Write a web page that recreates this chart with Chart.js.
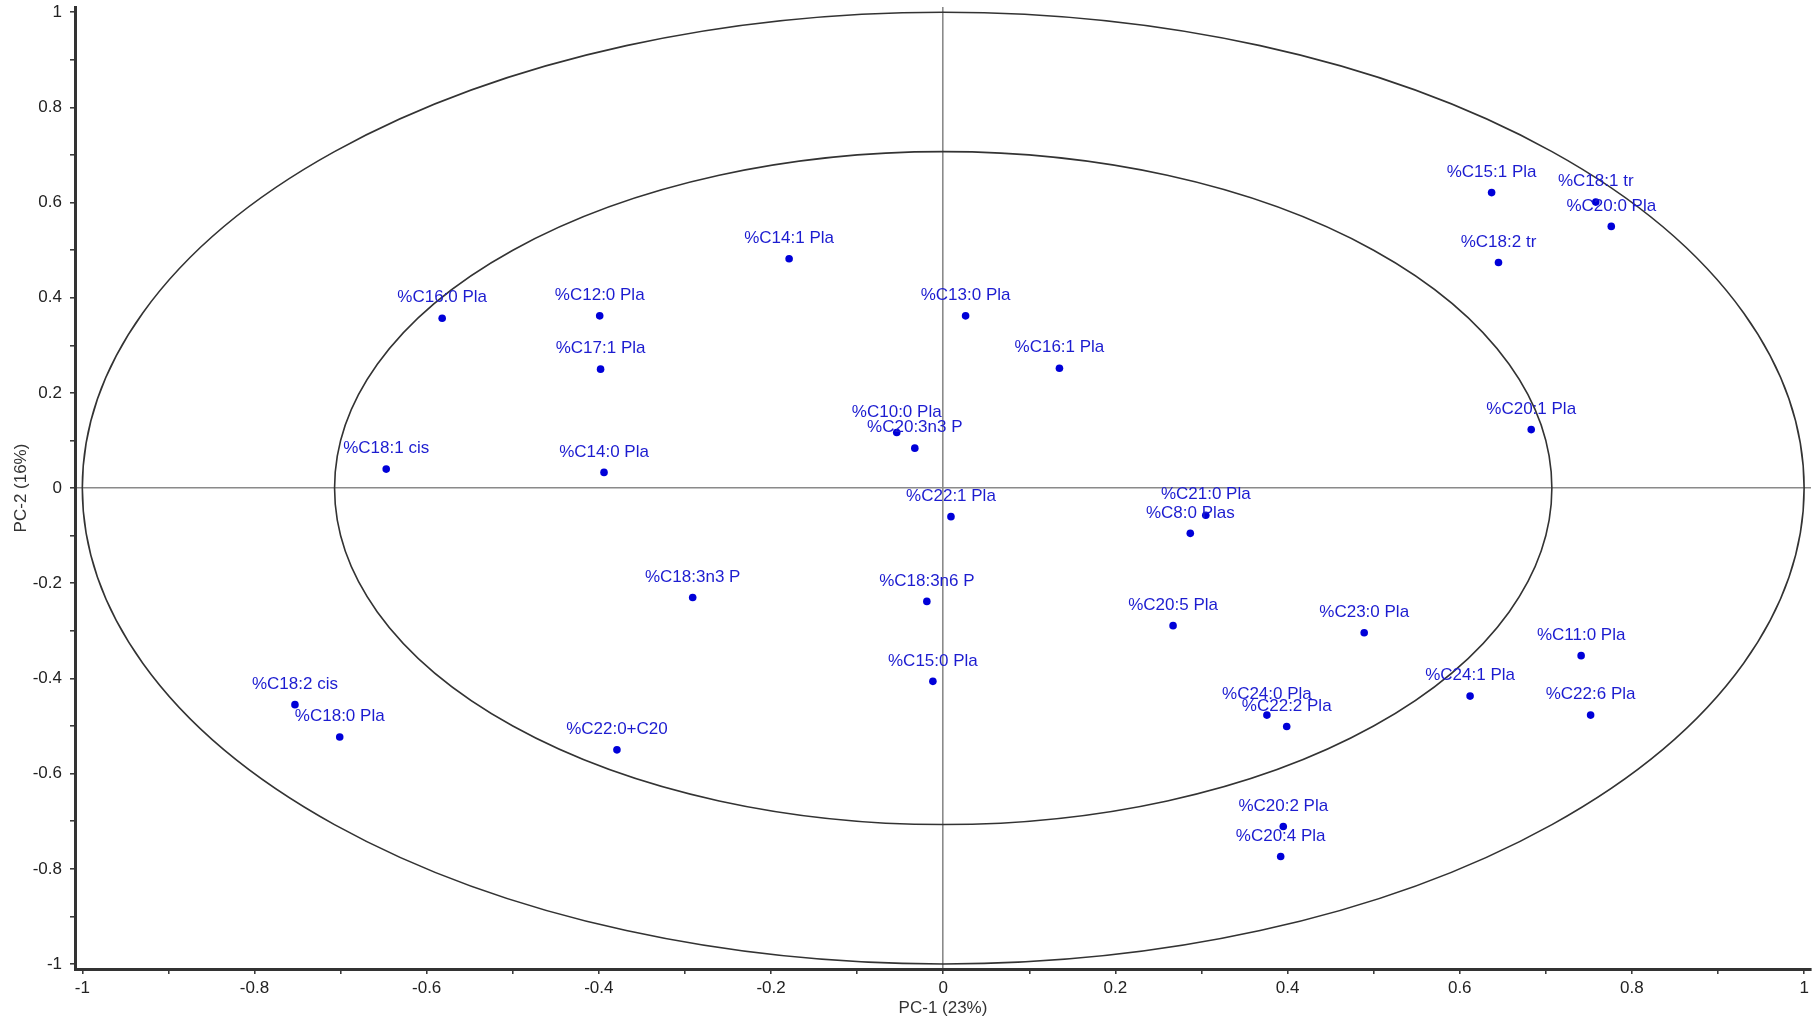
<!DOCTYPE html>
<html>
<head>
<meta charset="utf-8">
<title>PCA loadings</title>
<script src="https://cdn.jsdelivr.net/npm/chart.js@4.4.1/dist/chart.umd.min.js"></script>
<style>
  html, body { margin: 0; padding: 0; background: #fff; }
</style>
</head>
<body>
<canvas id="pcaChart" width="1818" height="1024"></canvas>
<script>
// loadings (PC-1, PC-2)
var names = ['%C16:0 Pla', '%C12:0 Pla', '%C17:1 Pla', '%C14:1 Pla', '%C13:0 Pla', '%C16:1 Pla',
  '%C10:0 Pla', '%C20:3n3 P', '%C18:1 cis', '%C14:0 Pla', '%C22:1 Pla', '%C21:0 Pla', '%C8:0 Plas',
  '%C18:3n3 P', '%C18:3n6 P', '%C15:0 Pla', '%C20:5 Pla', '%C23:0 Pla', '%C11:0 Pla', '%C24:1 Pla',
  '%C22:6 Pla', '%C24:0 Pla', '%C22:2 Pla', '%C20:2 Pla', '%C20:4 Pla', '%C18:2 cis', '%C18:0 Pla',
  '%C22:0+C20', '%C15:1 Pla', '%C18:1 tr', '%C20:0 Pla', '%C18:2 tr', '%C20:1 Pla'];
var pc1 = [-0.582, -0.399, -0.398, -0.179, 0.026, 0.135,
  -0.054, -0.033, -0.647, -0.394, 0.009, 0.305, 0.287,
  -0.291, -0.019, -0.012, 0.267, 0.489, 0.741, 0.612,
  0.752, 0.376, 0.399, 0.395, 0.392, -0.753, -0.701,
  -0.379, 0.637, 0.758, 0.776, 0.645, 0.683];
var pc2 = [0.357, 0.362, 0.250, 0.482, 0.362, 0.252,
  0.117, 0.084, 0.040, 0.033, -0.060, -0.057, -0.095,
  -0.230, -0.238, -0.406, -0.289, -0.304, -0.352, -0.437,
  -0.477, -0.477, -0.501, -0.711, -0.774, -0.455, -0.523,
  -0.550, 0.621, 0.601, 0.550, 0.474, 0.123];

var axisTicks = [-1, -0.9, -0.8, -0.7, -0.6, -0.5, -0.4, -0.3, -0.2, -0.1, 0,
  0.1, 0.2, 0.3, 0.4, 0.5, 0.6, 0.7, 0.8, 0.9, 1];
var circleRadii = [1, 0.707];   // 100% and 50% explained variance

var points = names.map(function (n, i) {
  return { x: pc1[i], y: pc2[i] };
});

var fontFam = '"Liberation Sans", Arial, sans-serif';

function majorOnly(v) {
  return Math.round(v * 10) % 2 === 0 ? String(v) : '';
}

function setTicks(scale) {
  scale.ticks = axisTicks.map(function (v) { return { value: v }; });
}

var ellipses = {
  id: 'ellipses',
  beforeDatasetsDraw: function (chart) {
    var ctx = chart.ctx, xs = chart.scales.x, ys = chart.scales.y;
    var cx = xs.getPixelForValue(0), cy = ys.getPixelForValue(0);
    ctx.save();
    ctx.strokeStyle = '#333';
    ctx.lineWidth = 1.6;
    circleRadii.forEach(function (r) {
      ctx.beginPath();
      ctx.ellipse(cx, cy, xs.getPixelForValue(r) - cx, cy - ys.getPixelForValue(r), 0, 0, Math.PI * 2);
      ctx.stroke();
    });
    ctx.restore();
  }
};

var pointLabels = {
  id: 'pointLabels',
  afterDatasetsDraw: function (chart) {
    var ctx = chart.ctx;
    var meta = chart.getDatasetMeta(0);
    ctx.save();
    ctx.font = '17px ' + fontFam;
    ctx.fillStyle = '#1c1cd0';
    ctx.textAlign = 'center';
    ctx.textBaseline = 'middle';
    meta.data.forEach(function (el, i) {
      ctx.fillText(names[i], el.x, el.y - 20.5);
    });
    ctx.restore();
  }
};

var ctxP = document.getElementById('pcaChart').getContext('2d');
var pcaChart = new Chart(ctxP, {
  type: 'scatter',
  plugins: [ellipses, pointLabels],
  data: {
    datasets: [{
      data: points,
      pointRadius: 3.8,
      pointHoverRadius: 3.8,
      pointBackgroundColor: '#0000d8',
      pointBorderWidth: 0
    }]
  },
  options: {
    responsive: false,
    animation: false,
    layout: { padding: { top: 7, right: 7, left: 0, bottom: 0 } },
    plugins: {
      legend: { display: false },
      tooltip: { enabled: false }
    },
    scales: {
      x: {
        type: 'linear',
        min: -1.0085,
        max: 1.008,
        afterBuildTicks: setTicks,
        afterFit: function (scale) {
          scale.height = 55;
          scale.paddingLeft = 0; scale.paddingRight = 0;
        },
        border: { display: true, color: '#333', width: 3 },
        grid: {
          drawOnChartArea: true,
          color: function (c) { return c.tick && c.tick.value === 0 ? '#8a8a8a' : 'rgba(0,0,0,0)'; },
          lineWidth: 1.6,
          tickColor: '#333',
          tickLength: 5,
          tickWidth: 1.5
        },
        ticks: {
          autoSkip: false,
          maxRotation: 0,
          padding: 4,
          color: '#222',
          font: { family: fontFam, size: 17 },
          callback: majorOnly
        },
        title: {
          display: true,
          text: 'PC-1 (23%)',
          color: '#333',
          font: { family: fontFam, size: 17 },
          padding: { top: 0, bottom: 5 }
        }
      },
      y: {
        type: 'linear',
        min: -1.0105,
        max: 1.011,
        afterBuildTicks: setTicks,
        afterFit: function (scale) {
          scale.width = 75;
          scale.paddingTop = 0; scale.paddingBottom = 0;
        },
        border: { display: true, color: '#333', width: 3 },
        grid: {
          drawOnChartArea: true,
          color: function (c) { return c.tick && c.tick.value === 0 ? '#8a8a8a' : 'rgba(0,0,0,0)'; },
          lineWidth: 1.6,
          tickColor: '#333',
          tickLength: 5,
          tickWidth: 1.5
        },
        ticks: {
          autoSkip: false,
          padding: 8,
          color: '#222',
          font: { family: fontFam, size: 17 },
          callback: majorOnly
        },
        title: {
          display: true,
          text: 'PC-2 (16%)',
          color: '#333',
          font: { family: fontFam, size: 17 },
          padding: { top: 11, bottom: 0 }
        }
      }
    }
  }
});
</script>
</body>
</html>
